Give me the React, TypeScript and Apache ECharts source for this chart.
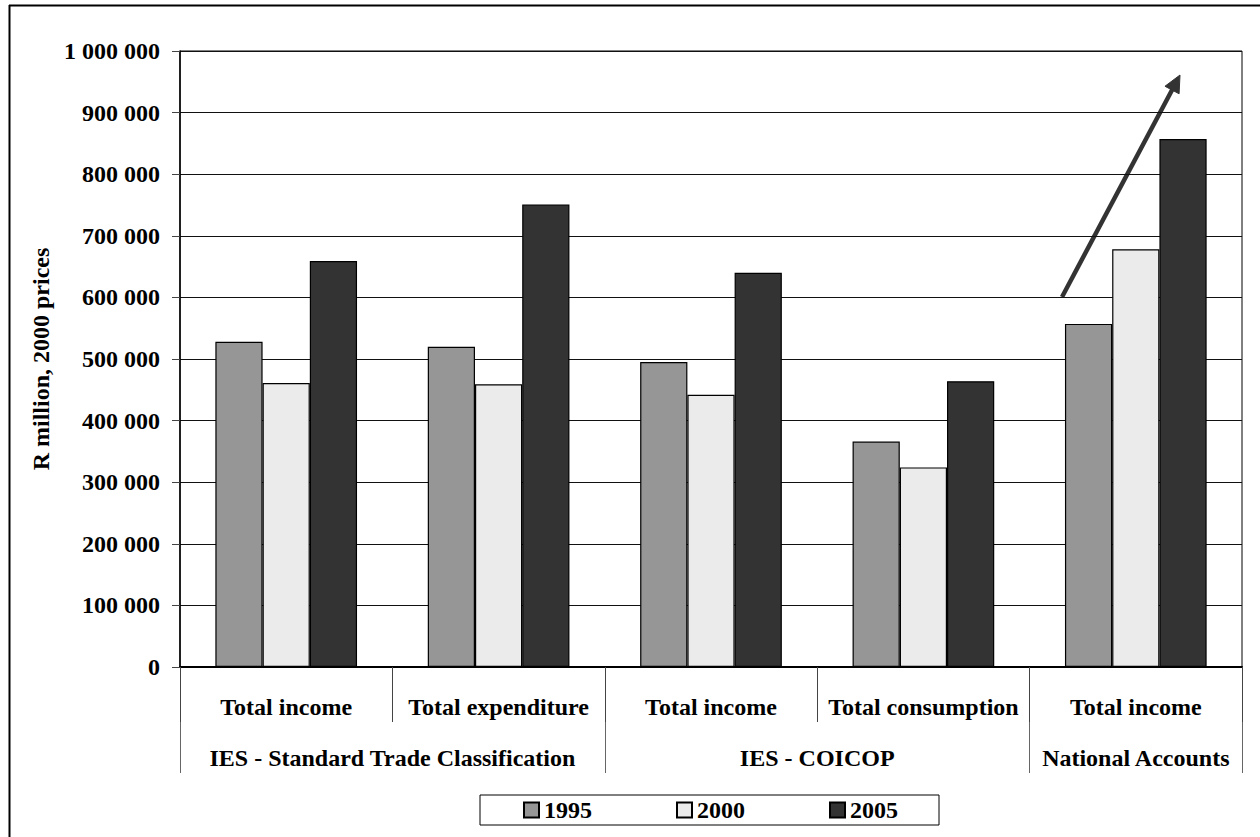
import React, { useEffect, useRef } from "react";
import * as echarts from "echarts";

const subCategories = ["Total income", "Total expenditure", "Total income", "Total consumption", "Total income"];
const groupSlots = ["", "", "IES - Standard Trade Classification", "", "", "", "IES - COICOP", "", "", "National Accounts", ""];
const groupBoundarySlots = [0, 4, 8, 10];
const seriesNames = ["1995", "2000", "2005"];
const values1995 = [528000, 520000, 495000, 366000, 557000];
const values2000 = [461000, 459000, 442000, 324000, 678000];
const values2005 = [659000, 751000, 640000, 464000, 857000];
const seriesColors = ["#969696", "#ebebeb", "#333333"];

const FONT = "'Liberation Serif', 'Times New Roman', serif";

function fmt(v: number): string {
  return String(v).replace(/\B(?=(\d{3})+(?!\d))/g, " ");
}

export default function App() {
  const ref = useRef<HTMLDivElement>(null);
  useEffect(() => {
    if (!ref.current) return;
    const chart = echarts.init(ref.current, undefined, { renderer: "svg" });
    const allValues = [values1995, values2000, values2005];
    const textBase = { fontFamily: FONT, fontWeight: "bold" as const, fontSize: 24, color: "#000" };

    // arrow geometry (annotation)
    const tail = [1062, 297];
    const tip = [1180, 75];
    const dx = tip[0] - tail[0];
    const dy = tip[1] - tail[1];
    const len = Math.sqrt(dx * dx + dy * dy);
    const ux = dx / len;
    const uy = dy / len;
    const headLen = 17;
    const headHalf = 8;
    const bx = tip[0] - ux * headLen;
    const by = tip[1] - uy * headLen;
    const px = -uy;
    const py = ux;

    chart.setOption({
      animation: false,
      backgroundColor: "#fff",
      grid: {
        left: 180,
        right: 18,
        top: 51,
        bottom: 170,
        show: true,
        borderColor: "#000",
        borderWidth: 1,
        containLabel: false,
      },
      legend: {
        data: seriesNames,
        left: 480,
        top: 795,
        orient: "horizontal",
        icon: "rect",
        itemWidth: 15,
        itemHeight: 15,
        itemGap: 84,
        padding: [3, 41, 3, 43],
        borderColor: "#000",
        borderWidth: 1,
        textStyle: { ...textBase, padding: [2, 0, 0, 0] },
      },
      xAxis: [
        {
          type: "category",
          data: subCategories,
          position: "bottom",
          axisLine: { show: true, lineStyle: { color: "#000", width: 2 } },
          axisTick: { show: true, interval: 0, length: 55, lineStyle: { color: "#444", width: 1 } },
          axisLabel: { ...textBase, interval: 0, margin: 28 },
          splitLine: { show: false },
        },
        {
          type: "category",
          data: groupSlots,
          boundaryGap: false,
          position: "bottom",
          offset: 55,
          axisLine: { show: false },
          axisTick: {
            show: true,
            length: 51,
            interval: (i: number) => groupBoundarySlots.indexOf(i) >= 0,
            lineStyle: { color: "#666", width: 1 },
          },
          axisLabel: { ...textBase, interval: 0, margin: 24 },
          splitLine: { show: false },
        },
      ],
      yAxis: {
        type: "value",
        min: 0,
        max: 1000000,
        interval: 100000,
        name: "R million, 2000 prices",
        nameLocation: "middle",
        nameGap: 126,
        nameTextStyle: { ...textBase },
        axisLine: { show: true, lineStyle: { color: "#000", width: 1.5 } },
        axisTick: { show: true, length: 8, lineStyle: { color: "#444" } },
        axisLabel: { ...textBase, margin: 20, formatter: (v: number) => fmt(v) },
        splitLine: { show: true, lineStyle: { color: "#111", width: 1 } },
      },
      series: seriesNames.map((name, i) => ({
        name,
        type: "bar",
        xAxisIndex: 0,
        data: allValues[i],
        barGap: "0%",
        barCategoryGap: "33.3%",
        itemStyle: { color: seriesColors[i], borderColor: "#000", borderWidth: 1.2 },
      })),
      graphic: [
        {
          type: "line",
          shape: { x1: 9.5, y1: 5, x2: 9.5, y2: 837 },
          style: { stroke: "#000", lineWidth: 2 },
        },
        {
          type: "line",
          shape: { x1: 9, y1: 5.5, x2: 1260, y2: 5.5 },
          style: { stroke: "#000", lineWidth: 2 },
        },
        {
          type: "line",
          shape: { x1: tail[0], y1: tail[1], x2: bx + ux * 2, y2: by + uy * 2 },
          style: { stroke: "#333", lineWidth: 4.5 },
        },
        {
          type: "polygon",
          shape: {
            points: [
              [tip[0], tip[1]],
              [bx + px * headHalf, by + py * headHalf],
              [bx - px * headHalf, by - py * headHalf],
            ],
          },
          style: { fill: "#333", stroke: "#333", lineWidth: 1 },
        },
      ],
    });
    return () => chart.dispose();
  }, []);
  return (
    <div
      ref={ref}
      style={{ position: "fixed", left: 0, top: 0, width: 1260, height: 837, background: "#fff" }}
    />
  );
}
